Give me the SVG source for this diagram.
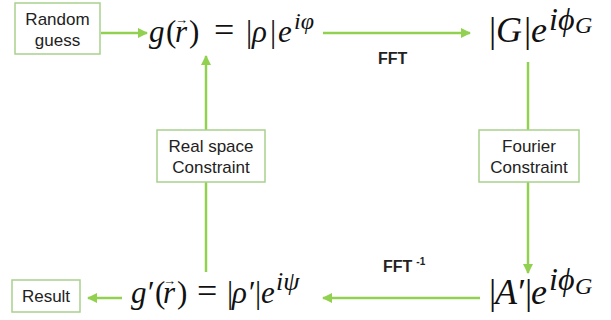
<svg xmlns="http://www.w3.org/2000/svg" width="611" height="320" viewBox="0 0 611 320">
<style>
.box{fill:#fff;stroke:#a9d18e;stroke-width:1.5}
.lbl{font-family:"Liberation Sans",Arial,sans-serif;font-size:17px;fill:#222;text-anchor:middle}
.fft{font-family:"Liberation Sans",Arial,sans-serif;font-size:16px;font-weight:bold;fill:#222}
.m{font-family:"Liberation Serif","Times New Roman",serif;fill:#111}
.i{font-style:italic}
.c{stroke:#92d050;stroke-width:2.5;fill:none}
</style>
<defs>
<marker id="ah" viewBox="0 0 10 10" refX="9" refY="5" markerWidth="4" markerHeight="4" orient="auto" markerUnits="strokeWidth">
<path d="M0,0 L10,5 L0,10 z" fill="#92d050"/>
</marker>
</defs>
<g id="connectors">
<line class="c" x1="101" y1="33" x2="147" y2="33" marker-end="url(#ah)"/>
<line class="c" x1="323" y1="33" x2="470" y2="33" marker-end="url(#ah)"/>
<line class="c" x1="528" y1="62" x2="528" y2="130"/>
<line class="c" x1="528" y1="182" x2="528" y2="273" marker-end="url(#ah)"/>
<line class="c" x1="480" y1="298" x2="323" y2="298" marker-end="url(#ah)"/>
<line class="c" x1="206" y1="272" x2="206" y2="182"/>
<line class="c" x1="206" y1="130" x2="206" y2="56" marker-end="url(#ah)"/>
<line class="c" x1="122" y1="298" x2="88" y2="298" marker-end="url(#ah)"/>
<text class="fft" x="378" y="64">FFT</text>
<text class="fft" x="383" y="272">FFT<tspan dx="4" dy="-7" font-size="10">-1</tspan></text>
</g>
<g id="random">
<rect class="box" x="15" y="3" width="85" height="51"/>
<text class="lbl" x="57.5" y="25">Random</text>
<text class="lbl" x="57.5" y="46">guess</text>
</g>
<g id="g">
<text class="m" y="42" font-size="31"><tspan class="i" x="149">g</tspan><tspan x="166">(</tspan><tspan class="i" x="175">r</tspan><tspan x="175" y="24" font-size="13">→</tspan><tspan x="189" y="42">)</tspan><tspan x="214" font-size="36">=</tspan><tspan x="246">|</tspan><tspan class="i" x="252">ρ</tspan><tspan x="270">|</tspan><tspan class="i" x="278">e</tspan><tspan class="i" x="294" y="29" font-size="24">iφ</tspan></text>
</g>
<g id="G">
<text class="m" y="42" font-size="36"><tspan x="489">|</tspan><tspan class="i" x="496">G</tspan><tspan x="524">|</tspan><tspan class="i" x="531">e</tspan><tspan class="i" x="549" y="30" font-size="32">iϕ</tspan><tspan class="i" x="575" y="33" font-size="24">G</tspan></text>
</g>
<g id="fourier">
<rect class="box" x="479" y="130" width="100" height="52"/>
<text class="lbl" x="529" y="152">Fourier</text>
<text class="lbl" x="529" y="173">Constraint</text>
</g>
<g id="real">
<rect class="box" x="157" y="130" width="108" height="52"/>
<text class="lbl" x="211" y="152">Real space</text>
<text class="lbl" x="211" y="173">Constraint</text>
</g>
<g id="A">
<text class="m" y="304" font-size="36"><tspan x="489">|</tspan><tspan class="i" x="495">A</tspan><tspan class="i" x="516">′</tspan><tspan x="525">|</tspan><tspan class="i" x="531">e</tspan><tspan class="i" x="549" y="290" font-size="32">iϕ</tspan><tspan class="i" x="575" y="294" font-size="24">G</tspan></text>
</g>
<g id="gp">
<text class="m" y="303" font-size="31"><tspan class="i" x="131">g</tspan><tspan class="i" x="146">′</tspan><tspan x="155">(</tspan><tspan class="i" x="163">r</tspan><tspan x="163" y="285" font-size="13">→</tspan><tspan x="177" y="303">)</tspan><tspan x="197" font-size="36">=</tspan><tspan x="227">|</tspan><tspan class="i" x="232">ρ</tspan><tspan class="i" x="247">′</tspan><tspan x="255">|</tspan><tspan class="i" x="261">e</tspan><tspan class="i" x="276" y="290" font-size="26">iψ</tspan></text>
</g>
<g id="result">
<rect class="box" x="12" y="280" width="68" height="32"/>
<text class="lbl" x="46" y="302">Result</text>
</g>
</svg>
